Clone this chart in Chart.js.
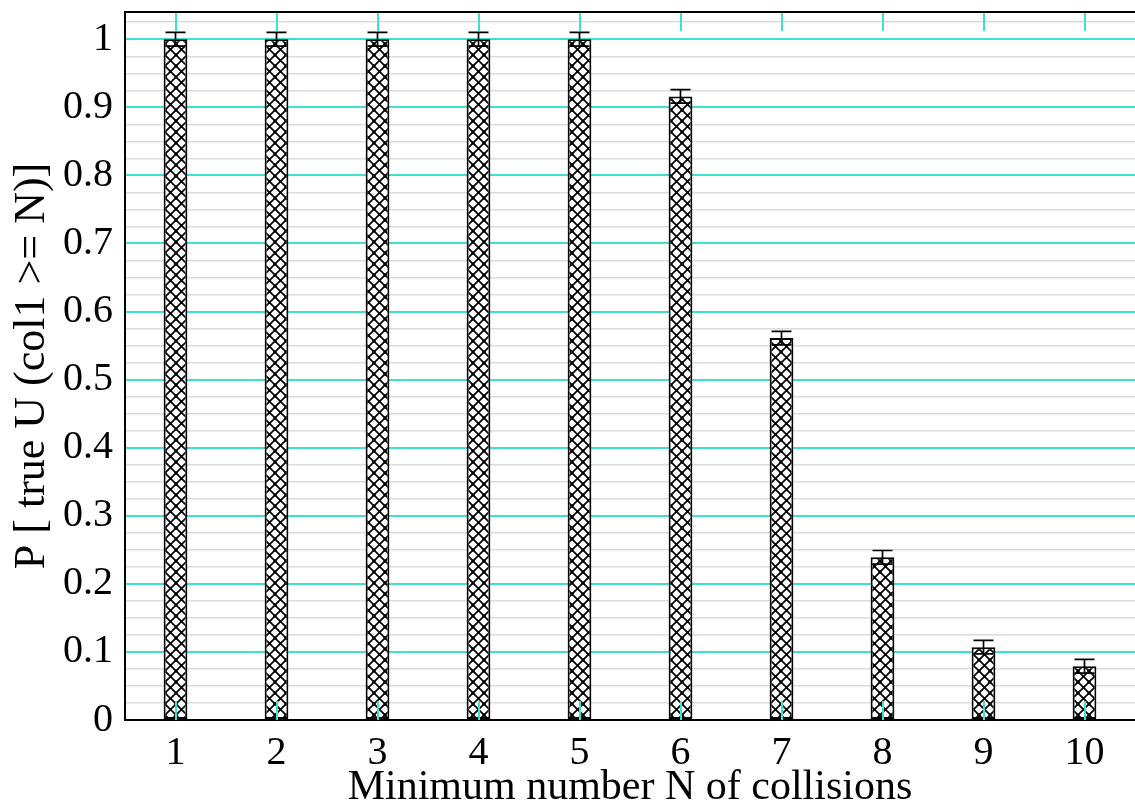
<!DOCTYPE html>
<html>
<head>
<meta charset="utf-8">
<script src="https://cdn.jsdelivr.net/npm/chart.js@4"></script>
<style>
  html, body { margin: 0; padding: 0; background: #ffffff; }
  #wrap { width: 1135px; height: 809px; }
</style>
</head>
<body>
<div id="wrap"><canvas id="collChart"></canvas></div>
<script>
const categories = ['1', '2', '3', '4', '5', '6', '7', '8', '9', '10'];
const probValues = [1.0, 1.0, 1.0, 1.0, 1.0, 0.916, 0.561, 0.239, 0.107, 0.079];
const probErrors = [0.01, 0.01, 0.01, 0.01, 0.01, 0.01, 0.01, 0.01, 0.01, 0.01];
const yTickLabels = ['0', '0.1', '0.2', '0.3', '0.4', '0.5', '0.6', '0.7', '0.8', '0.9', '1'];

const serif = "'Liberation Serif', 'DejaVu Serif', serif";
const teal = '#40e0d0';

// cross-hatch fill like gnuplot's pattern 2
function makeHatch() {
    const s = 11;
    const c = document.createElement('canvas');
    c.width = s; c.height = s;
    const g = c.getContext('2d');
    g.fillStyle = '#ffffff';
    g.fillRect(0, 0, s, s);
    g.strokeStyle = '#000000';
    g.lineWidth = 1.7;
    g.beginPath();
    g.moveTo(0, 0); g.lineTo(s, s);
    g.moveTo(s, 0); g.lineTo(0, s);
    g.stroke();
    g.fillStyle = '#000000';
    g.fillRect(s / 2 - 1.5, s / 2 - 1.5, 3, 3);
    g.fillRect(-1.5, -1.5, 3, 3); g.fillRect(s - 1.5, -1.5, 3, 3);
    g.fillRect(-1.5, s - 1.5, 3, 3); g.fillRect(s - 1.5, s - 1.5, 3, 3);
    return g.createPattern(c, 'repeat');
}

const isMajor = v => Math.abs(v * 10 - Math.round(v * 10)) < 1e-6;

const extras = {
    id: 'extras',
    afterDatasetsDraw(chart) {
        const ctx = chart.ctx;
        const area = chart.chartArea;
        const x = chart.scales.x, y = chart.scales.y;
        ctx.save();
        // teal mirrored x tics
        ctx.strokeStyle = teal;
        ctx.lineWidth = 2;
        categories.forEach((c, i) => {
            const px = Math.round(x.getPixelForValue(i));
            ctx.beginPath();
            ctx.moveTo(px, area.bottom); ctx.lineTo(px, area.bottom - 19);
            ctx.moveTo(px, area.top); ctx.lineTo(px, area.top + 19);
            ctx.stroke();
        });
        // error bars
        ctx.strokeStyle = '#000000';
        ctx.lineWidth = 1.7;
        probValues.forEach((v, i) => {
            const px = x.getPixelForValue(i);
            const top = y.getPixelForValue(v + probErrors[i]);
            const bot = y.getPixelForValue(v - probErrors[i]);
            ctx.beginPath();
            ctx.moveTo(px, top); ctx.lineTo(px, bot);
            ctx.moveTo(px - 10, top); ctx.lineTo(px + 10, top);
            ctx.moveTo(px - 10, bot); ctx.lineTo(px + 10, bot);
            ctx.stroke();
        });
        // frame top
        ctx.lineWidth = 2;
        ctx.beginPath();
        ctx.moveTo(area.left, area.top); ctx.lineTo(area.right, area.top);
        ctx.stroke();
        ctx.restore();
    }
};

const ctx = document.getElementById('collChart').getContext('2d');
new Chart(ctx, {
    type: 'bar',
    data: {
        labels: categories,
        datasets: [{
            data: probValues,
            backgroundColor: makeHatch(),
            borderColor: '#000000',
            borderWidth: 2,
            borderSkipped: false,
            barPercentage: 0.235,
            categoryPercentage: 1.0
        }]
    },
    options: {
        responsive: true,
        maintainAspectRatio: false,
        animation: false,
        layout: { padding: { top: 12, right: 0, left: 0, bottom: 0 } },
        plugins: {
            legend: { display: false },
            tooltip: { enabled: false }
        },
        scales: {
            x: {
                offset: true,
                grid: { display: false },
                border: { color: '#000000', width: 2 },
                ticks: {
                    color: '#000000',
                    padding: 1,
                    font: { family: serif, size: 40 }
                },
                title: {
                    display: true,
                    text: 'Minimum number N of collisions',
                    color: '#000000',
                    padding: { top: 0, bottom: -4 },
                    font: { family: serif, size: 42 }
                },
                afterFit: s => { s.height = 89; }
            },
            y: {
                min: 0,
                max: 1.04,
                afterBuildTicks: s => {
                    const t = [];
                    for (let k = 0; k <= 41; k++) t.push({ value: k * 0.025 });
                    s.ticks = t;
                },
                grid: {
                    drawTicks: false,
                    color: c => isMajor(c.tick.value) ? teal : '#dcdcdc',
                    lineWidth: c => isMajor(c.tick.value) ? 2 : 1.5
                },
                border: { color: '#000000', width: 2 },
                ticks: {
                    autoSkip: false,
                    color: '#000000',
                    padding: 12,
                    font: { family: serif, size: 40 },
                    callback: v => isMajor(v) ? yTickLabels[Math.round(v * 10)] : ''
                },
                title: {
                    display: true,
                    text: 'P [ true U (col1 >= N)]',
                    color: '#000000',
                    padding: { top: 6, bottom: 0 },
                    font: { family: serif, size: 44 }
                },
                afterFit: s => { s.width = 125; s.paddingTop = 0; s.paddingBottom = 0; }
            }
        }
    },
    plugins: [extras]
});
</script>
</body>
</html>
